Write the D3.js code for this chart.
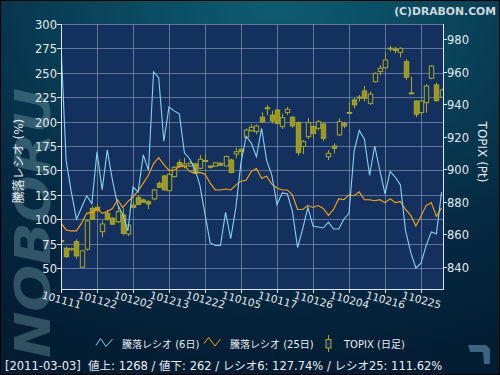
<!DOCTYPE html>
<html><head><meta charset="utf-8">
<script src="https://cdn.jsdelivr.net/npm/d3@7"></script>
<style>html,body{margin:0;padding:0;background:#000;}svg{display:block;}</style>
</head><body>
<svg id="c" width="500" height="375"></svg>
<script>
// ---------- data ----------
const tickDates = ["101111","101122","101202","101213","101222","110105","110117","110126","110204","110216","110225"];
const tickIndex = [0,7,14,21,28,35,42,49,56,63,70];
const leftTicks = [50,75,100,125,150,175,200,225,250,275,300];
const rightTicks = [840,860,880,900,920,940,960,980];

const ratio6 = [278,160,128,100,112,124,116,169,130,171, 140,115,105,88,133,128,166,150,251,245,
  180,215,211,208,168,162,152,135,105,76, 73,73,107,80,112,158,185,178,164,193,
  160,145,115,127,126,108,71,90,112,93, 92,91,97,90,90,100,106,170,191,182,
  145,175,150,126,149,143,135,88,66,50, 55,73,87,85,127.74];
const ratio25 = [96,89,88,88,96,106,107,111,106,108, 111,120,112,118,123,129,137,145,157,163,
  156,150,150,154,155,149,147,148,146,137, 130,130,131,130,135,139,140,149,152,142,
  144,136,132,130,130,125,110,110,114,112, 114,111,104,110,121,120,125,124,128,120,
  120,119,120,117,121,117,118,110,104,93, 103,114,117,103,111.62];
const topixOpen = [856.2,851.5,850.5,855.6,839.9,850.9,876,876.7,861.7,873, 870,867.8,872,860.3,878,882.6,881.2,880.1,881.8,891.4,
  895.9,886.9,895.5,904.1,901.6,902,903.3,900.6,905.2,902, 902,903.7,902,905.7,909.4,912.3,919.7,923.7,923.1,932,
  937.5,933.3,936.4,926.2,934.8,932,928.7,914,920,926.2, 925.2,927.8,907.7,914.3,921.1,928.2,934.6,942.6,944,948.1,
  940.5,953.8,960,962.4,974.1,973.6,971.8,966.1,946.7,941.9, 934.8,940.9,955.9,951.8,944.2];
const topixClose = [856,846.4,851.3,846.8,849.9,868.3,869.3,874.6,866.4,869.3, 866.3,874,860.7,865.8,876.7,878.5,879.8,878.7,887.3,888.9,
  887.3,896.9,901.2,901.6,903.3,903.7,898,906.2,905.4,901.2, 904,902.5,907.8,898,910.8,910.8,924.1,925.8,926.6,929.2,
  937.8,929.7,928.2,931.7,936.8,926.6,910.2,917,928.7,922.1, 929.2,919,909.8,912.9,929.2,926.6,934.9,939.5,944.3,943.6,
  946.2,958.9,962,967.1,974.4,973.3,974.3,956.5,946.9,933.8, 941.9,951.1,963.4,942.1,948.7];
const topixHigh = [858.3,852.5,852,857,850.5,869,877.5,878.5,868.5,875, 870.5,877,876,866.5,880,884,882,881.2,888,892.5,
  896.5,897.5,902,906,907,905,904,908.8,909.4,902.5, 904.5,904.2,908.5,906.5,913.3,913,925,927.8,927.5,935,
  939.5,936,937,934,938.3,932.5,929.5,918,931.5,927, 930.3,929,911.8,915.9,931.3,929.2,940.9,943.6,945.7,951.2,
  947.8,959.5,964,971.6,975.8,975.2,974.8,967.6,956.9,942.3, 942.5,952.3,964,953.2,949.5];
const topixLow = [853.5,845.5,850,845,839.5,850,869,874,858.3,868.5, 866,867,859.5,859,876,878,879.5,875.5,881,888.5,
  887,886.5,895,901,900.5,901.5,897.5,900,904.5,900.5, 901.5,902,901.5,897.5,906.8,908,919,923,921.5,928.3,
  933.3,928.2,927.5,924.7,933.3,925.5,908.5,909.3,918.5,919, 924,917.3,905.7,909.8,920.4,925.2,934.4,937.5,941.6,941.6,
  939.5,953.2,957.8,961.5,972.3,971.1,968.7,954.9,946.2,932, 933.5,934.8,955.3,941.6,944];

const legendLabels = ["騰落レシオ (6日)","騰落レシオ (25日)","TOPIX (日足)"];
const footerText = "[2011-03-03]  値上: 1268 / 値下: 262 / レシオ6: 127.74% / レシオ25: 111.62%";

// ---------- drawing ----------
const svg = d3.select("#c");
const W = 500, H = 375;
const P = {l:61, r:443, t:24, b:289};
const FONT = "'DejaVu Sans','Noto Sans CJK JP',sans-serif";

const defs = svg.append("defs");
const rg = defs.append("radialGradient").attr("id","bg").attr("cx","0.55").attr("cy","0").attr("r","1")
  .attr("gradientUnits","objectBoundingBox");
rg.append("stop").attr("offset","0").attr("stop-color","#0d5d6e");
rg.append("stop").attr("offset","0.35").attr("stop-color","#09465c");
rg.append("stop").attr("offset","0.7").attr("stop-color","#052a42");
rg.append("stop").attr("offset","1").attr("stop-color","#031d33");
defs.append("clipPath").attr("id","plotclip").append("rect")
  .attr("x",P.l).attr("y",P.t).attr("width",P.r-P.l).attr("height",P.b-P.t);

svg.append("rect").attr("x",0).attr("y",0).attr("width",W).attr("height",H).attr("fill","url(#bg)");
svg.append("rect").attr("x",0.5).attr("y",0.5).attr("width",W-1).attr("height",H-1)
  .attr("fill","none").attr("stroke","#000").attr("stroke-width",1);

// watermark
svg.append("text").attr("transform","translate(50,358) rotate(-90)")
  .attr("font-family","'DejaVu Sans',sans-serif").attr("font-weight","bold").attr("font-style","italic")
  .attr("font-size",50).attr("textLength",270).attr("lengthAdjust","spacingAndGlyphs")
  .attr("fill","#7aa4b0").attr("opacity",0.38).text("NOBORU");

// copyright
svg.append("text").attr("x",496).attr("y",15).attr("text-anchor","end")
  .attr("font-family",FONT).attr("font-weight","bold").attr("font-size",10.8)
  .attr("fill","#cfd8dc").text("(C)DRABON.COM");

// scales
const x = d3.scaleLinear().domain([0,74]).range([P.l, P.l + 74*36/7]);
const yL = d3.scaleLinear().domain([28.5,300]).range([P.b,P.t]);
const yR = d3.scaleLinear().domain([826.5,989.2]).range([P.b,P.t]);

// plot background
svg.append("rect").attr("x",P.l).attr("y",P.t).attr("width",P.r-P.l).attr("height",P.b-P.t).attr("fill","#14305e");

// grid
const grid = svg.append("g").attr("stroke","#a8b8d2").attr("stroke-opacity",0.5).attr("stroke-width",1);
leftTicks.forEach(v=>{ const yy=Math.round(yL(v))+0.5;
  grid.append("line").attr("x1",P.l).attr("x2",P.r).attr("y1",yy).attr("y2",yy); });
tickIndex.forEach(i=>{ if(i===0) return; const xx=Math.round(x(i))+0.5;
  grid.append("line").attr("x1",xx).attr("x2",xx).attr("y1",P.t).attr("y2",P.b); });

// candles
const plot = svg.append("g").attr("clip-path","url(#plotclip)");
const cg = plot.append("g");
const OL = "#aaa824";
topixOpen.forEach((o,i)=>{
  const c = topixClose[i], hi = topixHigh[i], lo = topixLow[i];
  const cx = Math.round(x(i))+0.5;
  cg.append("line").attr("x1",cx).attr("x2",cx).attr("y1",yR(hi)).attr("y2",yR(lo))
    .attr("stroke",OL).attr("stroke-width",1);
  const top = yR(Math.max(o,c)), bot = yR(Math.min(o,c));
  const hgt = Math.max(bot-top,1);
  const down = c < o;
  cg.append("rect").attr("x",cx-2.2).attr("y",top).attr("width",4.4).attr("height",hgt)
    .attr("fill", down ? "#9a9820" : "#14305e").attr("stroke",OL).attr("stroke-width",1);
});

// lines
const lineGen = d3.line().x((d,i)=>x(i)).y(d=>yL(d));
plot.append("path").datum(ratio25).attr("d",lineGen).attr("fill","none").attr("stroke","#ffa20a").attr("stroke-width",1.1);
plot.append("path").datum(ratio6).attr("d",lineGen).attr("fill","none").attr("stroke","#86d2f2").attr("stroke-width",1.1);

// axes
const axCol = "#dde4ec";
const ax = svg.append("g").attr("stroke",axCol).attr("stroke-width",1);
ax.append("line").attr("x1",P.l+0.5).attr("x2",P.l+0.5).attr("y1",P.t).attr("y2",P.b+1);
ax.append("line").attr("x1",P.r+0.5).attr("x2",P.r+0.5).attr("y1",P.t).attr("y2",P.b+1);
ax.append("line").attr("x1",P.l).attr("x2",P.r+1).attr("y1",P.b+0.5).attr("y2",P.b+0.5);

const tl = svg.append("g").attr("font-family",FONT).attr("font-size",11.5).attr("fill","#e4e9ef");
leftTicks.forEach(v=>{ const yy=Math.round(yL(v))+0.5;
  ax.append("line").attr("x1",P.l-4).attr("x2",P.l).attr("y1",yy).attr("y2",yy);
  tl.append("text").attr("x",P.l-4).attr("y",yy).attr("dy","0.36em").attr("text-anchor","end").text(v); });
rightTicks.forEach(v=>{ const yy=Math.round(yR(v))+0.5;
  ax.append("line").attr("x1",P.r).attr("x2",P.r+4).attr("y1",yy).attr("y2",yy);
  tl.append("text").attr("x",P.r+4).attr("y",yy).attr("dy","0.36em").attr("text-anchor","start").text(v); });
tickIndex.forEach((i,k)=>{ const xx=Math.round(x(i))+0.5;
  ax.append("line").attr("x1",xx).attr("x2",xx).attr("y1",P.b).attr("y2",P.b+4);
  svg.append("text").attr("transform",`translate(${xx},${P.b+11}) rotate(15)`)
    .attr("text-anchor","middle").attr("dy","0.35em").attr("font-family",FONT).attr("font-size",10.5)
    .attr("fill","#e4e9ef").text(tickDates[k]); });

// axis titles
svg.append("text").attr("transform","translate(19,161) rotate(-90)").attr("text-anchor","middle")
  .attr("dy","0.35em").attr("font-family",FONT).attr("font-size",12).attr("fill","#e4e9ef").text("騰落レシオ (%)");
svg.append("text").attr("transform","translate(482,152) rotate(90)").attr("text-anchor","middle")
  .attr("dy","0.35em").attr("font-family",FONT).attr("font-size",12).attr("fill","#e4e9ef").text("TOPIX (Pt)");

// legend
const lg = svg.append("g").attr("font-family",FONT).attr("font-size",10).attr("fill","#e8ecf0");
lg.append("path").attr("d","M96,345.5L100.5,338.5L106,346.5L112.5,339").attr("fill","none").attr("stroke","#86d2f2");
lg.append("text").attr("x",122).attr("y",344).attr("dy","0.35em").text(legendLabels[0]);
lg.append("path").attr("d","M204,343.5L208.5,337.5L215,346L220.5,339").attr("fill","none").attr("stroke","#ffa20a");
lg.append("text").attr("x",230).attr("y",344).attr("dy","0.35em").text(legendLabels[1]);
lg.append("line").attr("x1",328.5).attr("x2",328.5).attr("y1",335).attr("y2",352).attr("stroke",OL);
lg.append("rect").attr("x",326).attr("y",339.5).attr("width",5).attr("height",8.5).attr("fill","#14305e").attr("stroke",OL);
lg.append("text").attr("x",344).attr("y",344).attr("dy","0.35em").text(legendLabels[2]);

// footer
svg.append("text").attr("x",5).attr("y",366).attr("dy","0.35em").attr("font-family",FONT)
  .attr("font-size",11.5).attr("fill","#e8ecf0").style("white-space","pre").text(footerText);

// small logo
svg.append("path").attr("d","M468,345L486,345L490,349L490,364L484,364L483,352L470,352Z")
  .attr("fill","#3f6f84").attr("opacity",0.9);
</script>
</body></html>
